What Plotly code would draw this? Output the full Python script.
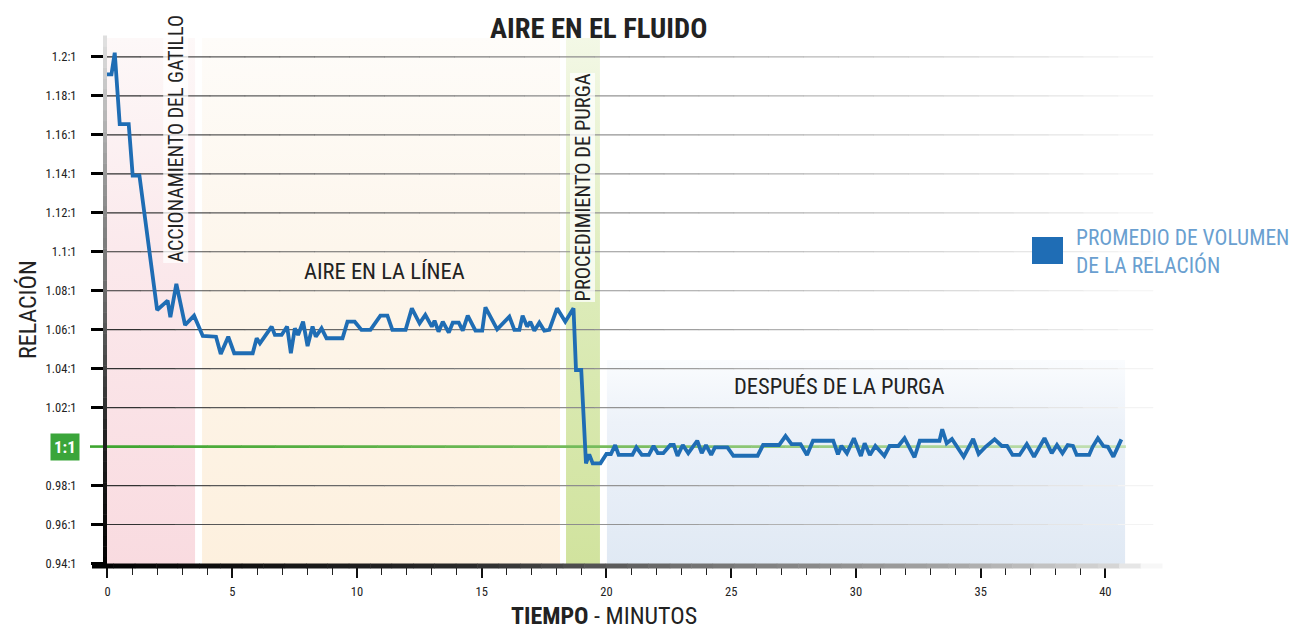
import plotly.graph_objects as go

# ---------------- data ----------------
minutes = [-0.1, 0.16, 0.29, 0.49, 0.85, 1.01, 1.28, 1.99, 2.41, 2.52, 2.76, 3.11, 3.47, 3.82,
           4.35, 4.54, 4.84, 5.08, 5.82, 5.98, 6.11, 6.58, 6.71, 6.98, 7.20, 7.35, 7.51, 7.64,
           7.84, 8.02, 8.22, 8.35, 8.58, 8.78, 9.42, 9.62, 9.91, 10.18, 10.54, 10.94, 11.22,
           11.42, 11.95, 12.20, 12.51, 12.74, 13.00, 13.11, 13.27, 13.44, 13.68, 13.84, 14.08,
           14.24, 14.44, 14.75, 15.02, 15.15, 15.62, 16.11, 16.31, 16.51, 16.64, 16.82, 16.95,
           17.11, 17.31, 17.51, 17.71, 18.02, 18.35, 18.68, 18.78, 18.99, 19.18, 19.31, 19.45,
           19.76, 20.00, 20.18, 20.35, 20.49, 21.04, 21.20, 21.42, 21.70, 21.89, 22.06, 22.28,
           22.56, 22.70, 22.85, 23.06, 23.28, 23.64, 23.82, 23.99, 24.20, 24.35, 24.85, 25.09,
           26.06, 26.28, 26.92, 27.18, 27.42, 27.78, 28.04, 28.28, 29.09, 29.28, 29.42, 29.64,
           29.92, 30.20, 30.35, 30.56, 30.78, 31.14, 31.35, 31.70, 31.95, 32.35, 32.56, 33.35,
           33.46, 33.64, 33.85, 34.32, 34.70, 34.92, 35.20, 35.56, 35.85, 36.06, 36.28, 36.56,
           36.85, 37.14, 37.56, 37.85, 38.06, 38.28, 38.49, 38.70, 38.85, 39.35, 39.49, 39.70,
           39.92, 40.10, 40.32, 40.64]
ratio = [1.1911, 1.1911, 1.2022, 1.1655, 1.1655, 1.1391, 1.1391, 1.0701, 1.0749, 1.0664, 1.0835,
         1.0624, 1.0672, 1.0568, 1.0564, 1.0475, 1.0564, 1.0479, 1.0479, 1.0556, 1.0530, 1.0616,
         1.0573, 1.0573, 1.0616, 1.0479, 1.0607, 1.0573, 1.0641, 1.0516, 1.0616, 1.0564, 1.0607,
         1.0556, 1.0556, 1.0641, 1.0641, 1.0599, 1.0599, 1.0672, 1.0672, 1.0599, 1.0599, 1.0710,
         1.0633, 1.0676, 1.0616, 1.0646, 1.0590, 1.0641, 1.0585, 1.0636, 1.0636, 1.0595, 1.0672,
         1.0595, 1.0595, 1.0715, 1.0602, 1.0667, 1.0599, 1.0599, 1.0672, 1.0616, 1.0641, 1.0595,
         1.0636, 1.0595, 1.0599, 1.0710, 1.0641, 1.0710, 1.0393, 1.0393, 0.9914, 0.9960, 0.9914,
         0.9914, 0.9962, 0.9962, 1.0008, 0.9957, 0.9957, 0.9996, 0.9957, 0.9957, 1.0003, 0.9966,
         0.9966, 1.0008, 1.0008, 0.9952, 1.0008, 0.9966, 1.0030, 0.9966, 1.0008, 0.9957, 0.9996,
         0.9996, 0.9953, 0.9953, 1.0008, 1.0008, 1.0054, 1.0013, 1.0013, 0.9957, 1.0030, 1.0030,
         0.9960, 1.0004, 0.9966, 1.0043, 0.9952, 1.0017, 0.9957, 1.0003, 0.9952, 1.0003, 1.0003,
         1.0043, 0.9945, 1.0030, 1.0030, 1.0089, 1.0017, 1.0039, 0.9948, 1.0039, 0.9962, 0.9999,
         1.0037, 1.0003, 1.0003, 0.9957, 0.9957, 1.0013, 0.9948, 1.0043, 0.9966, 1.0008, 0.9966,
         1.0008, 1.0003, 0.9957, 0.9957, 0.9999, 1.0043, 1.0003, 0.9999, 0.9948, 1.0037]

y_tickvals = [0.94, 0.96, 0.98, 1.02, 1.04, 1.06, 1.08, 1.10, 1.12, 1.14, 1.16, 1.18, 1.20]
y_ticktext = ["0.94:1", "0.96:1", "0.98:1", "1.02:1", "1.04:1", "1.06:1", "1.08:1", "1.1:1",
              "1.12:1", "1.14:1", "1.16:1", "1.18:1", "1.2:1"]
grid_vals = [0.96, 0.98, 1.02, 1.04, 1.06, 1.08, 1.10, 1.12, 1.14, 1.16, 1.18, 1.20]
x_major = [0, 5, 10, 15, 20, 25, 30, 35, 40]
x_minor = [m for m in range(0, 41) if m % 5 != 0]

# phases (start, end in minutes)
phase_trigger = (-0.1, 3.51)
phase_air = (3.79, 18.14)
phase_purge = (18.38, 19.74)
phase_after = (20.02, 40.79)

TITLE = "AIRE EN EL FLUIDO"
LEGEND_NAME = "PROMEDIO DE VOLUMEN<br>DE LA RELACIÓN"

# ---------------- styling ----------------
FONT = "Liberation Sans Narrow, Roboto Condensed, DejaVu Sans Condensed, Arial Narrow, sans-serif"
X_RANGE = [-0.1, 42.35]
Y_RANGE = [0.9387, 1.2200]

# page offset of the figure (default body margin) and page geometry of the plot area
OFF = 8
PAGE_W, PAGE_H = 1301, 630
PL, PR, PT, PB = 105, 1164, 18, 566          # plot area in page pixels
W, H = PAGE_W - OFF, PAGE_H - OFF
L, T = PL - OFF, PT - OFF
R, B = W - (PR - OFF), H - (PB - OFF)
plot_w, plot_h = PR - PL, PB - PT


def px_x(px):
    return (px - PL) / plot_w


def px_y(py):
    return (PB - py) / plot_h


def hex2rgb(h):
    h = h.lstrip('#')
    return [int(h[i:i + 2], 16) for i in (0, 2, 4)]


def interp(stops, f):
    for (f0, c0), (f1, c1) in zip(stops[:-1], stops[1:]):
        if f0 <= f <= f1:
            t = 0 if f1 == f0 else (f - f0) / (f1 - f0)
            a, b = hex2rgb(c0), hex2rgb(c1)
            return 'rgb(%d,%d,%d)' % tuple(round(a[i] + (b[i] - a[i]) * t) for i in range(3))
    return stops[-1][1]


fig = go.Figure()


def band(x0, x1, y0, y1, scale):
    fig.add_trace(go.Scatter(
        x=[x0, x1, x1, x0, x0], y=[y0, y0, y1, y1, y0], mode='lines',
        line=dict(width=0), fill='toself',
        fillgradient=dict(type='vertical', colorscale=scale, start=y0, stop=y1),
        hoverinfo='skip', showlegend=False))


TOP_BAND = 1.2097
band(phase_trigger[0], phase_trigger[1], Y_RANGE[0], TOP_BAND,
     [[0, '#f9dbe0'], [0.6, '#fbe9ec'], [1, '#fdf8f8']])
band(phase_air[0], phase_air[1], Y_RANGE[0], TOP_BAND,
     [[0, '#fdf0de'], [0.6, '#fdf6ec'], [1, '#fefcf9']])
band(phase_purge[0], phase_purge[1], Y_RANGE[0], TOP_BAND,
     [[0, '#d1e39e'], [0.5, '#dcebb8'], [1, '#f3f8e6']])
band(phase_after[0], phase_after[1], Y_RANGE[0], 1.0444,
     [[0, '#e0e9f4'], [0.7, '#edf2f9'], [1, '#fafcfe']])

# gradient gridlines (dark at left, fading to the right)
grid_stops = [(0, '#2a2a2a'), (0.1, '#555555'), (0.45, '#8d8d8d'), (0.8, '#cccccc'), (1, '#f7f7f7')]
g_end = 41.9
N = 30
for i in range(N):
    xa = X_RANGE[0] + (g_end - X_RANGE[0]) * i / N
    xb = X_RANGE[0] + (g_end - X_RANGE[0]) * (i + 1) / N + 0.02
    xs, ys = [], []
    for g in grid_vals:
        xs += [xa, xb, None]
        ys += [g, g, None]
    fig.add_trace(go.Scatter(x=xs, y=ys, mode='lines',
                             line=dict(color=interp(grid_stops, (i + 0.5) / N), width=1.2),
                             hoverinfo='skip', showlegend=False))

# 1:1 reference line (green, fading)
green_stops = [(0, '#3ea52f'), (0.5, '#79bd5f'), (1, '#c7e2b8')]
g_end2 = 40.8
for i in range(N):
    xa = X_RANGE[0] + (g_end2 - X_RANGE[0]) * i / N
    xb = X_RANGE[0] + (g_end2 - X_RANGE[0]) * (i + 1) / N + 0.02
    fig.add_trace(go.Scatter(x=[xa, xb], y=[1.0, 1.0], mode='lines',
                             line=dict(color=interp(green_stops, (i + 0.5) / N), width=2.6),
                             hoverinfo='skip', showlegend=False))

# main series
fig.add_trace(go.Scatter(x=minutes, y=ratio, mode='lines', name='Promedio de volumen de la relación',
                         line=dict(color='#1f6db4', width=3.8), showlegend=False))

shapes = []
# green line stub left of axis
shapes.append(dict(type='line', xref='paper', yref='y', x0=px_x(90), x1=0,
                   y0=1.0, y1=1.0, line=dict(color='#3ea52f', width=2.6), layer='above'))
# gradient x axis line
xs_stops = [(0, '#000000'), (0.35, '#2a2a2a'), (0.55, '#707070'), (0.8, '#a5a5a5'),
            (0.95, '#d5d5d5'), (1, '#ffffff')]
px0, px1 = 92, 1162
M = 50
for i in range(M):
    a = px0 + (px1 - px0) * i / M
    b = px0 + (px1 - px0) * (i + 1) / M + 0.5
    shapes.append(dict(type='line', xref='paper', yref='paper',
                       x0=px_x(a), x1=px_x(b), y0=0, y1=0,
                       line=dict(color=interp(xs_stops, (i + 0.5) / M), width=5), layer='above'))
# gradient y axis line
ys_stops = [(0, '#000000'), (0.25, '#222222'), (0.5, '#666666'), (0.75, '#9a9a9a'), (1, '#e2e2e2')]
py0, py1 = 568, 36
for i in range(M):
    a = py0 + (py1 - py0) * i / M
    b = py0 + (py1 - py0) * (i + 1) / M - 0.5
    shapes.append(dict(type='line', xref='paper', yref='paper', x0=0, x1=0,
                       y0=px_y(a), y1=px_y(b),
                       line=dict(color=interp(ys_stops, (i + 0.5) / M), width=4), layer='above'))
# legend swatch
shapes.append(dict(type='rect', xref='paper', yref='paper',
                   x0=px_x(1032), x1=px_x(1063), y0=px_y(264), y1=px_y(237),
                   fillcolor='#1f6db5', line=dict(width=0), layer='above'))

TXT = '#222222'
C = dict(xanchor='center', yanchor='middle', showarrow=False)
ann = []
ann.append(dict(text=TITLE, xref='paper', yref='paper', x=px_x(598.5), y=px_y(28), **C,
                font=dict(family=FONT, size=28.5, color=TXT, weight='bold')))
ann.append(dict(text="ACCIONAMIENTO DEL GATILLO", x=2.75, y=1.1582, textangle=-90, **C,
                font=dict(family=FONT, size=20, color=TXT),
                bgcolor='rgba(255,255,255,0.75)', borderpad=0))
ann.append(dict(text="PROCEDIMIENTO DE PURGA", x=19.06, y=1.1330, textangle=-90, **C,
                font=dict(family=FONT, size=20.5, color=TXT),
                bgcolor='rgba(255,255,255,0.75)', borderpad=0))
ann.append(dict(text="AIRE EN LA LÍNEA", x=11.11, y=1.0901, **C,
                font=dict(family=FONT, size=22.5, color=TXT)))
ann.append(dict(text="DESPUÉS DE LA PURGA", x=29.32, y=1.0311, **C,
                font=dict(family=FONT, size=22.5, color=TXT)))
ann.append(dict(text="RELACIÓN", xref='paper', yref='paper', x=px_x(28), y=px_y(310),
                textangle=-90, **C, font=dict(family=FONT, size=24, color=TXT)))
ann.append(dict(text="<b>TIEMPO</b> - MINUTOS", xref='paper', yref='paper', x=px_x(604),
                y=px_y(615.5), **C, font=dict(family=FONT, size=24, color=TXT)))
ann.append(dict(text="<b>1:1</b>", xref='paper', yref='y', x=px_x(64.5), y=1.0, **C,
                bgcolor='#3aa53a', borderpad=3,
                font=dict(family=FONT, size=17, color='#ffffff')))
ann.append(dict(text=LEGEND_NAME, xref='paper', yref='paper', x=px_x(1074), y=px_y(251),
                xanchor='left', yanchor='middle', align='left', showarrow=False,
                font=dict(family=FONT, size=21.5, color='#6a9fd0')))

fig.update_layout(
    width=W, height=H, margin=dict(l=L, r=R, t=T, b=B, autoexpand=False),
    paper_bgcolor='white', plot_bgcolor='white',
    shapes=shapes, annotations=ann, showlegend=False,
    xaxis=dict(range=X_RANGE, showgrid=False, zeroline=False, showline=False,
               tickmode='array', tickvals=x_major, ticktext=[str(v) for v in x_major],
               ticks='outside', ticklen=11, tickwidth=2, tickcolor='#111111',
               ticklabelstandoff=3,
               tickfont=dict(family=FONT, size=12.5, color=TXT),
               minor=dict(tickmode='array', tickvals=x_minor, ticks='outside', ticklen=8,
                          tickwidth=1.2, tickcolor='#222222', showgrid=False)),
    yaxis=dict(range=Y_RANGE, showgrid=False, zeroline=False, showline=False,
               tickmode='array', tickvals=y_tickvals, ticktext=y_ticktext,
               ticks='outside', ticklen=13, tickwidth=2.5, tickcolor='#000000',
               ticklabelstandoff=12,
               tickfont=dict(family=FONT, size=12.5, color=TXT)),
)

fig.write_html("out.html")
